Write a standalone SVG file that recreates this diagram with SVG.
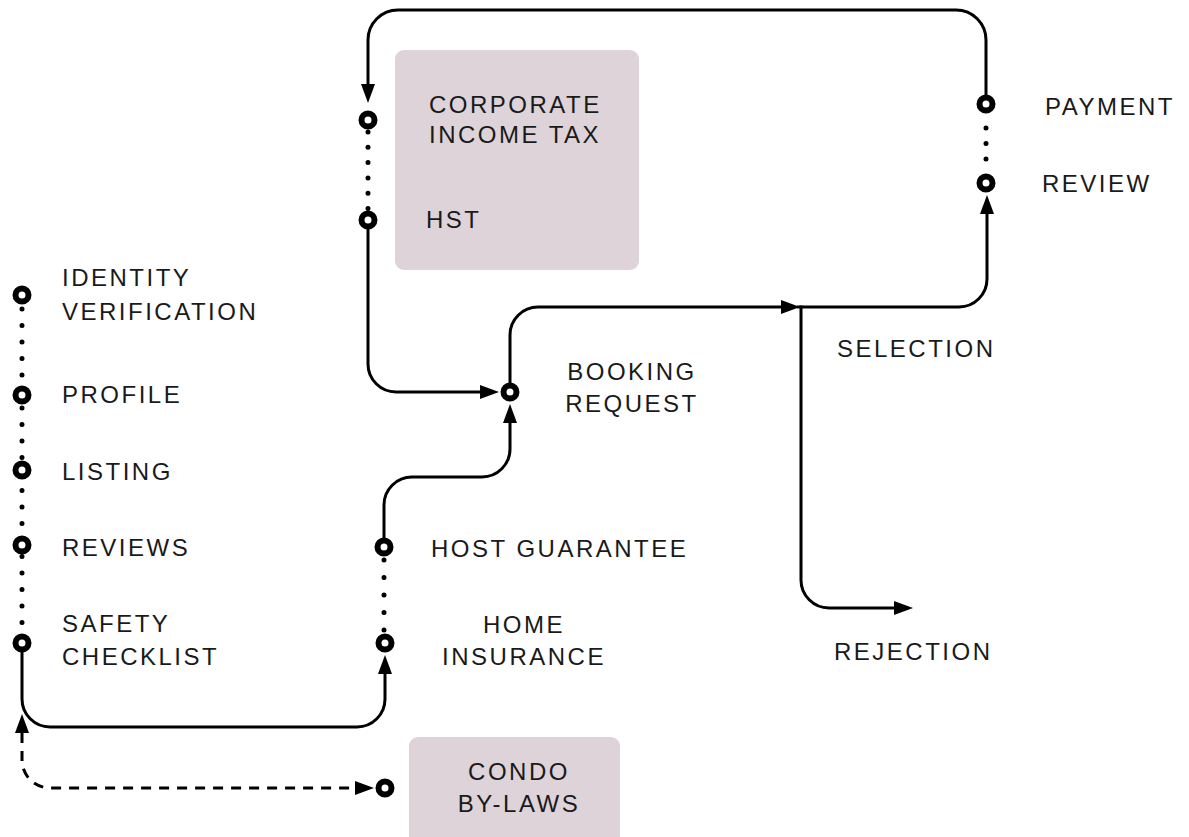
<svg xmlns="http://www.w3.org/2000/svg" width="1189" height="837" viewBox="0 0 1189 837">
<style>
  .lbl { font-family: "Liberation Sans", Arial, sans-serif; font-size: 24px; letter-spacing: 2.5px; fill: #1a1a1a; }
  .mid { text-anchor: middle; }
  .box { fill: #ddd3d9; }
  .edge { fill: none; stroke: #000; stroke-width: 3; }
  .dash { stroke-dasharray: 10 8; }
  .dots { fill: none; stroke: #000; stroke-width: 5; stroke-linecap: round; }
  .port { fill: #fff; stroke: #000; stroke-width: 6; }
</style>
<defs>
  <marker id="arr" viewBox="0 0 19 14" markerWidth="19" markerHeight="14" refX="0" refY="7" orient="auto-start-reverse" markerUnits="userSpaceOnUse">
    <path d="M0,0 L19,7 L0,14 z" fill="#000"/>
  </marker>
</defs>
<rect width="1189" height="837" fill="#fff"/>

<g id="box-tax">
  <rect class="box" x="395" y="50" width="244" height="220" rx="9"/>
  <text class="lbl" x="429" y="113">CORPORATE</text>
  <text class="lbl" x="429" y="143">INCOME TAX</text>
</g>
<g id="box-condo">
  <rect class="box" x="409" y="737" width="211" height="120" rx="9"/>
  <text class="lbl mid" x="519" y="780">CONDO</text>
  <text class="lbl mid" x="519" y="812">BY-LAWS</text>
</g>

<g id="connectors">
  <path class="edge" d="M22,650 V699 A28,28 0 0 0 50,727 H357 A28,28 0 0 0 385,699 V674" marker-end="url(#arr)"/>
  <path class="edge" d="M384,540 V505 A28,28 0 0 1 412,477 H482 A28,28 0 0 0 510,449 V423" marker-end="url(#arr)"/>
  <path class="edge" d="M368,227 V364 A28,28 0 0 0 396,392 H480" marker-end="url(#arr)"/>
  <path class="edge" d="M510,385 V335 A28,28 0 0 1 538,307 H781" marker-end="url(#arr)"/>
  <path class="edge" d="M797,307 H959 A28,28 0 0 0 987,279 V214" marker-end="url(#arr)"/>
  <path class="edge" d="M801,305.5 V580 A28,28 0 0 0 829,608 H894" marker-end="url(#arr)"/>
  <path class="edge" d="M986,97 V40 A30,30 0 0 0 956,10 H398 A30,30 0 0 0 368,40 V84" marker-end="url(#arr)"/>
  <path class="edge dash" d="M22,733 V760 A28,28 0 0 0 50,788 H355" marker-start="url(#arr)" marker-end="url(#arr)"/>
  <path class="dots" d="M22,309 V643" stroke-dasharray="0 16.5"/>
  <path class="dots" d="M368,132 V215" stroke-dasharray="0 15.3"/>
  <path class="dots" d="M384,560 V640" stroke-dasharray="0 17.5"/>
  <path class="dots" d="M986,128 V160" stroke-dasharray="0 15.5"/>
</g>

<g id="identity-verification">
  <circle class="port" cx="22" cy="295" r="6.5"/>
  <text class="lbl" x="62" y="286">IDENTITY</text>
  <text class="lbl" x="62" y="320">VERIFICATION</text>
</g>
<g id="profile">
  <circle class="port" cx="22" cy="395" r="6.5"/>
  <text class="lbl" x="62" y="403">PROFILE</text>
</g>
<g id="listing">
  <circle class="port" cx="22" cy="470" r="6.5"/>
  <text class="lbl" x="62" y="480">LISTING</text>
</g>
<g id="reviews">
  <circle class="port" cx="22" cy="545" r="6.5"/>
  <text class="lbl" x="62" y="556">REVIEWS</text>
</g>
<g id="safety-checklist">
  <circle class="port" cx="22" cy="643" r="6.5"/>
  <text class="lbl" x="62" y="632">SAFETY</text>
  <text class="lbl" x="62" y="665">CHECKLIST</text>
</g>
<g id="corporate-income-tax">
  <circle class="port" cx="368" cy="120" r="6.5"/>
</g>
<g id="hst">
  <circle class="port" cx="368" cy="220" r="6.5"/>
  <text class="lbl" x="426" y="228">HST</text>
</g>
<g id="host-guarantee">
  <circle class="port" cx="384" cy="547" r="6.5"/>
  <text class="lbl" x="431" y="557">HOST GUARANTEE</text>
</g>
<g id="home-insurance">
  <circle class="port" cx="385" cy="643" r="6.5"/>
  <text class="lbl mid" x="524" y="633">HOME</text>
  <text class="lbl mid" x="524" y="665">INSURANCE</text>
</g>
<g id="booking-request">
  <circle class="port" cx="510" cy="392" r="6.5"/>
  <text class="lbl mid" x="632" y="380">BOOKING</text>
  <text class="lbl mid" x="632" y="412">REQUEST</text>
</g>
<g id="selection">
  <text class="lbl" x="837" y="357">SELECTION</text>
</g>
<g id="rejection">
  <text class="lbl" x="834" y="660">REJECTION</text>
</g>
<g id="payment">
  <circle class="port" cx="986" cy="104" r="6.5"/>
  <text class="lbl" x="1045" y="115">PAYMENT</text>
</g>
<g id="review">
  <circle class="port" cx="986" cy="183" r="6.5"/>
  <text class="lbl" x="1042" y="192">REVIEW</text>
</g>
<g id="condo-by-laws">
  <circle class="port" cx="385" cy="788" r="6.5"/>
</g>
</svg>
